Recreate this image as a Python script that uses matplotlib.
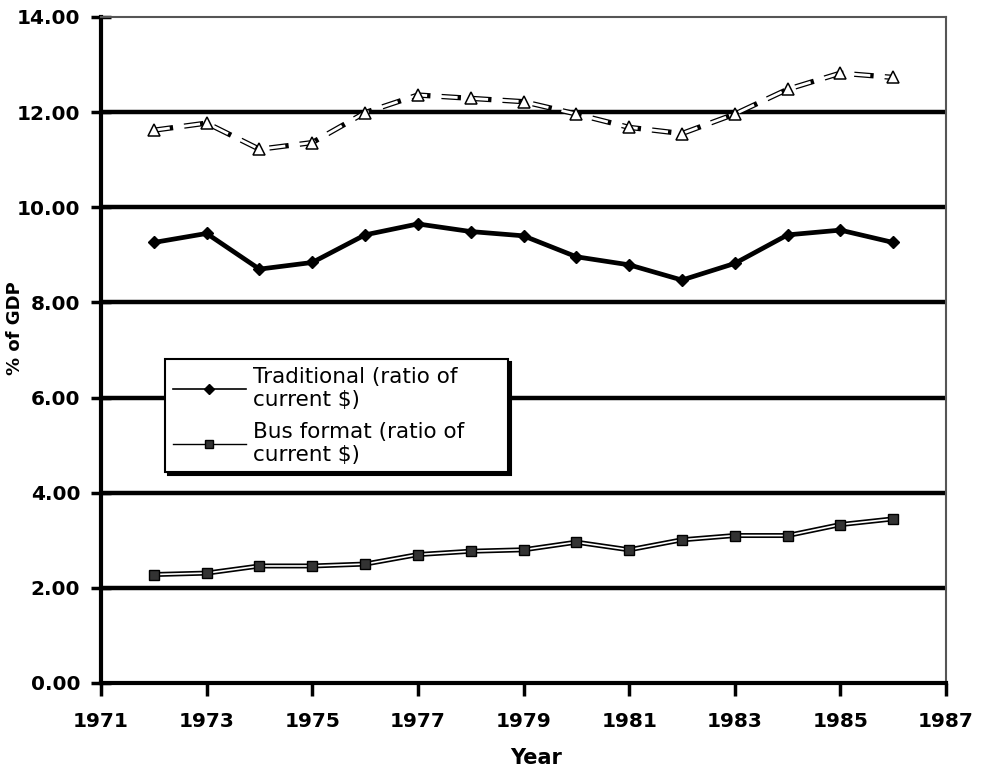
import matplotlib
matplotlib.use("Agg")
import matplotlib.pyplot as plt

plt.rcParams["lines.scale_dashes"] = False

years = [1972, 1973, 1974, 1975, 1976, 1977, 1978, 1979, 1980, 1981, 1982, 1983, 1984, 1985, 1986]
traditional = [9.26, 9.45, 8.70, 8.84, 9.42, 9.65, 9.49, 9.40, 8.96, 8.79, 8.47, 8.82, 9.42, 9.52, 9.26]
bus_format = [2.28, 2.31, 2.46, 2.46, 2.50, 2.70, 2.77, 2.80, 2.96, 2.80, 3.01, 3.10, 3.10, 3.33, 3.45]
third_series = [11.62, 11.77, 11.22, 11.36, 11.99, 12.36, 12.29, 12.22, 11.96, 11.68, 11.55, 11.96, 12.48, 12.82, 12.73]

x_ticks = list(range(1971, 1988, 2))
y_ticks = [0, 2, 4, 6, 8, 10, 12, 14]
y_tick_labels = ["0.00", "2.00", "4.00", "6.00", "8.00", "10.00", "12.00", "14.00"]

fig = plt.figure(figsize=(9.84, 7.67), dpi=100)
ax = fig.add_axes([101/984, 1 - 683/767, (946-101)/984, (683-17)/767])

# horizontal gridlines
for yv in y_ticks[1:-1]:
    ax.axhline(yv, color="black", lw=3.2, zorder=1)

# third (unlabelled) series: white dashed line with black outline
ax.plot(years, third_series, color="black", lw=3.8, ls=(0, (14, 8)), zorder=3)
ax.plot(years, third_series, color="white", lw=2.0, ls=(0.8, (12.4, 9.6)), zorder=4)
ax.plot(years, third_series, ls="none", marker="^", markersize=9,
        markerfacecolor="white", markeredgecolor="black", markeredgewidth=1.1, zorder=5)

# traditional
ax.plot(years, traditional, color="black", lw=3.4, marker="D", markersize=6,
        markerfacecolor="black", zorder=5)
h1, = ax.plot([], [], color="black", lw=1.2, marker="D", markersize=5,
              label="Traditional (ratio of\ncurrent $)")

# bus format: double line
ax.plot(years, bus_format, color="black", lw=3.6, zorder=5)
ax.plot(years, bus_format, color="white", lw=1.2, zorder=6)
ax.plot(years, bus_format, ls="none", marker="s", markersize=7.5,
        markerfacecolor="#333333", markeredgecolor="black", zorder=7)
h2, = ax.plot([], [], color="black", lw=1.0, marker="s", markersize=6,
              markerfacecolor="#333333", label="Bus format (ratio of\ncurrent $)")

ax.set_xlim(1971, 1987)
ax.set_ylim(0, 14)
ax.set_xticks(x_ticks)
ax.set_xticklabels([str(v) for v in x_ticks])
ax.set_yticks(y_ticks)
ax.set_yticklabels(y_tick_labels)

for lab in ax.get_xticklabels() + ax.get_yticklabels():
    lab.set_fontweight("heavy")
    lab.set_fontsize(14.5)

ax.tick_params(axis="x", direction="out", length=9, width=2.5, pad=12)
ax.tick_params(axis="y", direction="inout", length=14, width=2.5, pad=8)

ax.spines["left"].set_linewidth(3)
ax.spines["bottom"].set_linewidth(3)
ax.spines["top"].set_color("#555555")
ax.spines["top"].set_linewidth(1.5)
ax.spines["right"].set_color("#555555")
ax.spines["right"].set_linewidth(1.5)

fig.text(15/984, 1 - 328/767, "% of GDP", rotation=90, fontsize=13,
         fontweight="heavy", ha="center", va="center")
fig.text(536/984, 1 - 758/767, "Year", fontsize=15, fontweight="heavy",
         ha="center", va="center")

leg_left, leg_top, leg_right, leg_bottom = 165/984, 1 - 359/767, 508/984, 1 - 486/767
leg = ax.legend(handles=[h1, h2], loc="upper left", mode="expand",
                bbox_to_anchor=(leg_left, leg_bottom, leg_right - leg_left, leg_top - leg_bottom),
                bbox_transform=fig.transFigure, borderaxespad=0,
                fontsize=15.5, frameon=True, fancybox=False, handlelength=3.4,
                labelspacing=0.55, borderpad=0.35, handletextpad=0.35,
                shadow={"color": "black", "alpha": 1.0, "ox": 2, "oy": -2})
leg.get_frame().set_edgecolor("black")
leg.get_frame().set_linewidth(1.5)
leg.set_zorder(10)

fig.savefig("out.png", dpi=100)
